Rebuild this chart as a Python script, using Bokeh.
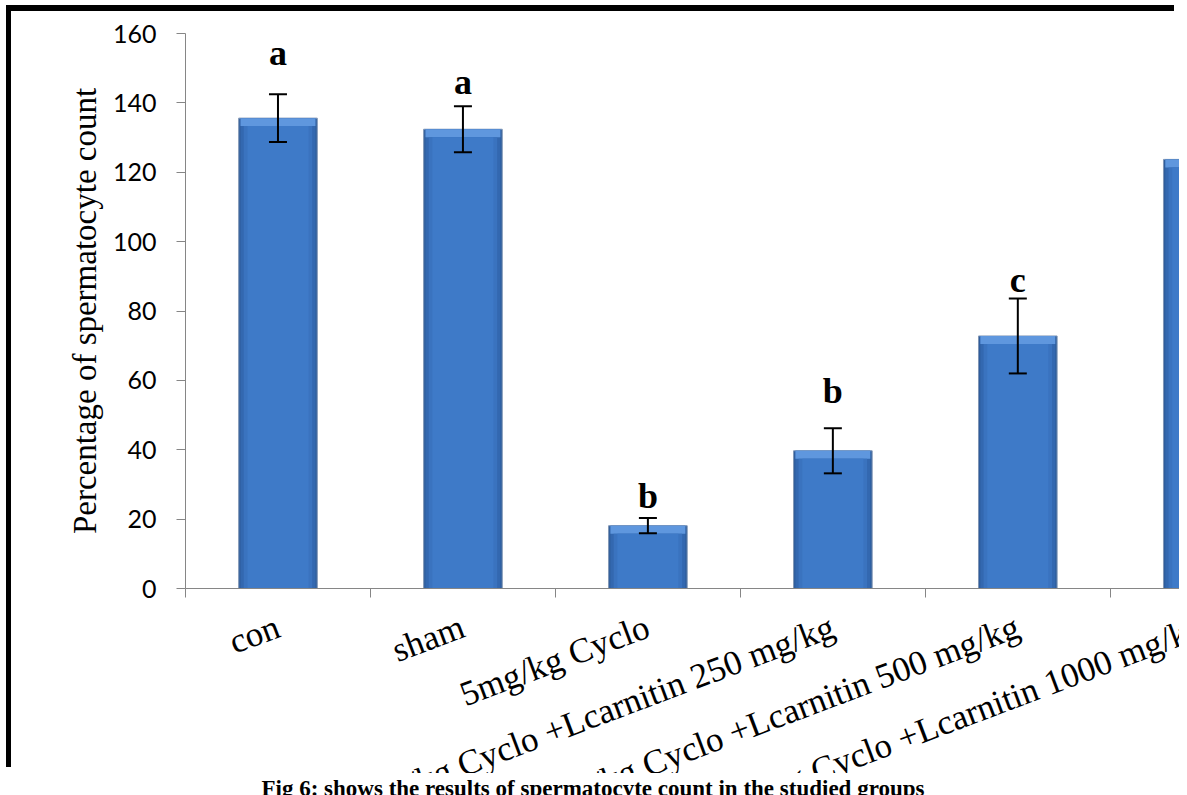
from bokeh.plotting import figure
from bokeh.models import (ColumnDataSource, FixedTicker, LinearAxis, Whisker,
                          TeeHead, Div, Range1d)
from bokeh.layouts import column
from bokeh.core.properties import value
from bokeh.embed import file_html
from bokeh.resources import INLINE

# ---- data ----
groups = ["con", "sham", "5mg/kg Cyclo",
          "5mg/kg Cyclo +Lcarnitin 250 mg/kg",
          "5mg/kg Cyclo +Lcarnitin 500 mg/kg",
          "5mg/kg Cyclo +Lcarnitin 1000 mg/kg"]
means = [135.6, 132.4, 18.1, 39.7, 72.8, 123.7]
errors = [6.9, 6.6, 2.2, 6.5, 10.8, 6.0]
letters = ["a", "a", "b", "b", "c"]          # 6th letter is cropped in the source
letter_heights = [154.5, 146.0, 26.8, 57.0, 88.8]
y_ticks = [0, 20, 40, 60, 80, 100, 120, 140, 160]
y_label = "Percentage of spermatocyte count"
caption = "Fig 6: shows the results of spermatocyte count in the studied groups"

centers = [i + 0.5 for i in range(len(groups))]
src = ColumnDataSource(dict(
    x=centers, top=means,
    bevel=[m - 2.3 for m in means],
    upper=[m + e for m, e in zip(means, errors)],
    lower=[m - e for m, e in zip(means, errors)],
))
lsrc = ColumnDataSource(dict(x=centers[:len(letters)], ly=letter_heights,
                             letter=letters))

# the source image is a crop: the figure is drawn full size and its container
# shows only the visible window
p = figure(width=1293, height=880, output_backend="svg", toolbar_location=None,
           sizing_mode="fixed",
           x_range=Range1d(0, 6.05), y_range=Range1d(0, 160),
           min_border_left=174, min_border_right=0, min_border_top=22,
           min_border_bottom=303, background_fill_color="white",
           border_fill_color="white", outline_line_color=None)
p.styles = {"flex": "none", "flex-shrink": "0"}

p.xgrid.visible = False
p.ygrid.visible = False

# bars: layered to imitate the bevelled gradient fill
p.vbar(x="x", top="top", bottom=0, width=0.425, source=src,
       fill_color="#2e5d9c", line_color="#7f95b5", line_width=1)
p.vbar(x="x", top="top", bottom=0, width=0.405, source=src,
       fill_color="#3368b0", line_color=None)
p.vbar(x="x", top="top", bottom="bevel", width=0.405, source=src,
       fill_color="#5f97de", line_color=None)
p.vbar(x="x", top="bevel", bottom=0, width=0.37, source=src,
       fill_color="#3a73bf", line_color=None)
p.vbar(x="x", top="bevel", bottom=0, width=0.33, source=src,
       fill_color="#3e7ac8", line_color=None)

# error bars
w = Whisker(source=src, base="x", upper="upper", lower="lower",
            line_color="black", line_width=2, level="overlay",
            upper_head=TeeHead(size=18, line_color="black", line_width=2),
            lower_head=TeeHead(size=18, line_color="black", line_width=2))
p.add_layout(w)

# significance letters
p.text(x="x", y="ly", text="letter", source=lsrc, text_align="center",
       text_baseline="middle", text_font=value("Liberation Serif"),
       text_font_style="bold", text_font_size="36px", text_color="black")

# y axis
p.yaxis.ticker = FixedTicker(ticks=y_ticks)
p.yaxis.axis_line_color = "#868686"
p.yaxis.major_tick_line_color = "#868686"
p.yaxis.major_tick_in = 0
p.yaxis.major_tick_out = 9
p.yaxis.minor_tick_line_color = None
p.yaxis.major_label_text_font = "Lato"
p.yaxis.major_label_text_font_size = "25px"
p.yaxis.major_label_text_color = "black"
p.yaxis.major_label_standoff = 20
p.yaxis.axis_label = y_label
p.yaxis.axis_label_text_font = "Liberation Serif"
p.yaxis.axis_label_text_font_style = "normal"
p.yaxis.axis_label_text_font_size = "33px"
p.yaxis.axis_label_text_color = "black"
p.yaxis.axis_label_standoff = 7

# x axis: rule and category boundary ticks
p.xaxis.ticker = FixedTicker(ticks=[0, 1, 2, 3, 4, 5, 6])
p.xaxis.axis_line_color = "#868686"
p.xaxis.major_tick_line_color = "#868686"
p.xaxis.major_tick_in = 0
p.xaxis.major_tick_out = 9
p.xaxis.minor_tick_line_color = None
p.xaxis.major_label_text_font_size = "0px"
p.xaxis.major_label_standoff = 0

# x axis 2: rotated category labels
lab_axis = LinearAxis(ticker=FixedTicker(ticks=centers),
                      major_label_overrides={c: g for c, g in zip(centers, groups)},
                      axis_line_color=None, major_tick_line_color=None,
                      minor_tick_line_color=None,
                      major_label_orientation=0.36,
                      major_label_standoff=22,
                      major_label_text_font="Liberation Serif",
                      major_label_text_font_size="35px",
                      major_label_text_color="black")
p.add_layout(lab_axis, "below")

window = column(p, styles={"overflow": "hidden", "width": "1168px",
                           "height": "762px", "max-width": "1168px",
                           "max-height": "762px",
                           "margin-left": "11px", "margin-top": "11px",
                           "box-shadow": "-5px -6px 0px 0px black"})

cap = Div(text=caption, width=1176, height=22,
          styles={"text-align": "center", "font-family": "Liberation Serif",
                  "font-weight": "bold", "font-size": "23px",
                  "line-height": "22px", "color": "black", "width": "1176px"})

layout = column(window, cap, spacing=0,
                styles={"overflow": "hidden", "width": "1187px"})
open("out.html", "w").write(file_html(layout, INLINE))
